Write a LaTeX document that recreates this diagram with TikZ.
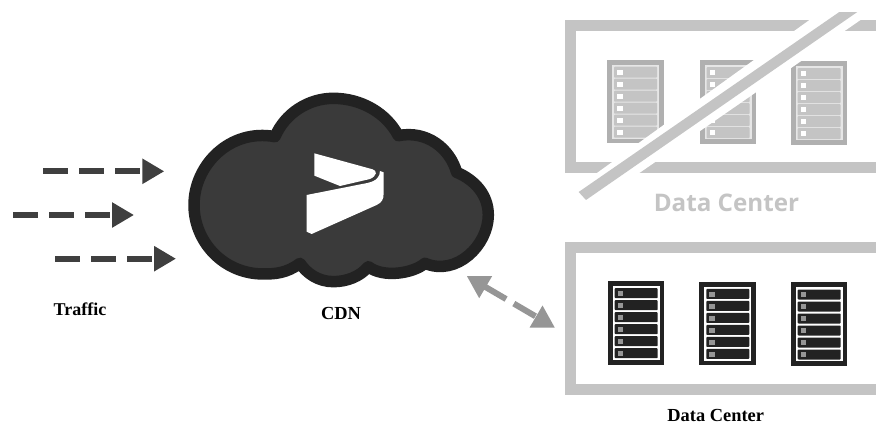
\documentclass[tikz,border=0pt]{standalone}
\usepackage{fontspec}
\setmainfont{Liberation Serif}
\newfontfamily\dcfont{Open Sans}
\usetikzlibrary{arrows.meta}
\definecolor{frameGray}{HTML}{C4C4C4}
\definecolor{cloudFill}{HTML}{3A3A3A}
\definecolor{cloudEdge}{HTML}{222222}
\definecolor{flowDark}{HTML}{3F3F3F}
\definecolor{flowGray}{HTML}{969696}
\definecolor{offOuter}{HTML}{B0B0B0}
\definecolor{offLine}{HTML}{E6E6E6}
\tikzset{
  x=1pt,y=-1pt,
  trafficflow/.style={draw=flowDark,line width=6pt,dash pattern=on 25pt off 11pt,
    -{Triangle[length=22pt,width=24pt,fill=flowDark]}},
  linkflow/.style={draw=flowGray,line width=6pt,dash pattern=on 25pt off 9pt,
    {Triangle[length=22pt,width=24pt,fill=flowGray]}-{Triangle[length=22pt,width=24pt,fill=flowGray]}},
  dcframe/.style={draw=frameGray,line width=11pt,miter limit=10},
  caption/.style={font=\fontsize{18.4}{20}\selectfont\bfseries,text=black,inner sep=0pt},
}
% x, y (top-left), outer, inner line, row, light, row height
\newcommand{\rackunit}[7]{%
  \begin{scope}[shift={(#1,#2)}]
    \fill[#3] (0,0) rectangle (56.5,83.5);
    \fill[#4] (5,5) rectangle (52,79);
    \foreach \r in {0,...,5}{
      \fill[#5,rounded corners=0.8pt] (7,7.2+12*\r) rectangle (50,7.2+#7+12*\r);
      \fill[#6] (10,10+12*\r) rectangle (15.5,15+12*\r);
    }
  \end{scope}}
\begin{document}
\begin{tikzpicture}
\useasboundingbox (0,0) rectangle (876,424);
\fill[white] (0,0) rectangle (876,424);

% cloud
\begin{scope}[shift={(180,85)},x=0.3333pt,y=-0.3333pt]
  \path[fill=cloudFill,draw=cloudEdge,line width=11.5pt,line join=round]
    (285,155)
    .. controls (315,85) and (385,40) .. (460,40)
    .. controls (545,40) and (620,85) .. (655,152)
    .. controls (740,135) and (810,190) .. (830,262)
    .. controls (885,285) and (925,330) .. (925,390)
    .. controls (925,480) and (830,575) .. (735,535)
    .. controls (700,565) and (610,580) .. (565,545)
    .. controls (540,575) and (500,590) .. (460,590)
    .. controls (415,590) and (380,565) .. (360,535)
    .. controls (320,565) and (285,567) .. (250,567)
    .. controls (130,567) and (42,470) .. (42,360)
    .. controls (42,240) and (150,130) .. (285,155) -- cycle;
  \fill[white] (403,205) -- (578,253)
    .. controls (592,257) and (592,272) .. (570,282)
    -- (480,303) -- (403,272) -- cycle;
  \fill[white] (380,330) -- (562,294)
    .. controls (590,288) and (600,275) .. (600,258)
    -- (611,262) -- (611,325)
    .. controls (611,345) and (605,352) .. (590,360)
    -- (395,447) -- (380,440) -- cycle;
\end{scope}

% traffic arrows
\coordinate (t1s) at (43.3,171.3); \coordinate (t1e) at (164.3,171.3);
\coordinate (t2s) at (13,215);     \coordinate (t2e) at (134,215);
\coordinate (t3s) at (55,258.7);   \coordinate (t3e) at (176,258.7);
\draw[trafficflow] (t1s) -- (t1e);
\draw[trafficflow] (t2s) -- (t2e);
\draw[trafficflow] (t3s) -- (t3e);

% link arrow
\coordinate (linkA) at (466.7,276);
\coordinate (linkB) at (555,327.7);
\draw[linkflow] (linkA) -- (linkB);

% frames
\draw[dcframe] (876,25.7) -- (570,25.7) -- (570,167.7) -- (876,167.7);
\draw[dcframe] (876,247.5) -- (570,247.5) -- (570,389.5) -- (876,389.5);

% racks, failed centre
\rackunit{607}{59.5}{offOuter}{offLine}{frameGray}{white}{11}
\rackunit{699.5}{60}{offOuter}{offLine}{frameGray}{white}{11}
\rackunit{790.5}{61}{offOuter}{offLine}{frameGray}{white}{11}

% slash
\begin{scope}[shift={(560,0)},x=0.3333pt,y=-0.3333pt]
  \fill[white] (40,570) -- (85,625) -- (945,30) -- (945,12) -- (815,12) -- cycle;
  \fill[frameGray] (56,576) -- (78,600) -- (892,36) -- (838,36) -- cycle;
\end{scope}

% racks, live centre
\rackunit{607.7}{281}{cloudEdge}{white}{cloudEdge}{flowGray}{10}
\rackunit{699.3}{281.7}{cloudEdge}{white}{cloudEdge}{flowGray}{10}
\rackunit{790.7}{282.3}{cloudEdge}{white}{cloudEdge}{flowGray}{10}

% labels
\node[text=frameGray,inner sep=0pt,font=\dcfont\fontsize{24.2}{26}\selectfont\bfseries] (dcoff) at (726.5,203) {Data Center};
\node[caption,font=\fontsize{18}{20}\selectfont\bfseries] (traffic) at (80,309) {Traffic};
\node[caption] (cdn) at (341,313) {CDN};
\node[caption] (dclive) at (715.7,415.5) {Data Center};
\end{tikzpicture}
\end{document}
